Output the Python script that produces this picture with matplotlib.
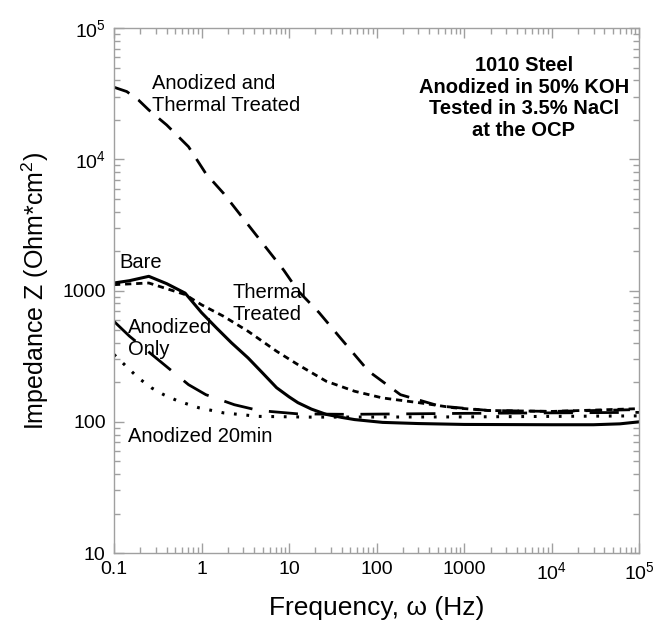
import numpy as np
import matplotlib
matplotlib.use('Agg')
import matplotlib.pyplot as plt
from matplotlib.ticker import FixedLocator, FixedFormatter, LogLocator, NullFormatter

plt.rcParams['font.family'] = ['Liberation Sans', 'DejaVu Sans']
plt.rcParams['mathtext.fontset'] = 'custom'
plt.rcParams['mathtext.rm'] = 'Liberation Sans'
plt.rcParams['mathtext.it'] = 'Liberation Sans:italic'
plt.rcParams['lines.scale_dashes'] = False

# data (frequency in Hz, |Z| in Ohm*cm^2)
bare_f = [0.1, 0.15, 0.25, 0.4, 0.65, 1.0, 1.48, 2.2, 3.4, 5, 7.2, 10, 12.6, 18, 26.5, 40, 56, 117, 300, 1000, 1e4, 3e4, 6e4, 1e5]
bare_z = [1143, 1190, 1285, 1130, 957, 680, 520, 400, 307, 235, 182, 155, 140, 125, 114, 108, 104, 99, 97, 95.5, 95, 95, 96.5, 100]

thermal_f = [0.1, 0.25, 0.65, 1.0, 1.78, 3.4, 7.2, 12.6, 26.5, 56, 117, 300, 755, 1900, 1e4, 1e5]
thermal_z = [1110, 1143, 933, 780, 638, 490, 345, 273, 204, 171, 152, 140, 128, 122, 120, 126]

anth_f = [0.1, 0.14, 0.19, 0.25, 0.4, 0.71, 1.12, 1.79, 3.1, 5, 8.7, 12.6, 22, 38.5, 81, 187, 521, 1900, 1e4, 1e5]
anth_z = [35500, 32900, 28400, 23800, 18300, 12500, 7800, 5500, 3440, 2290, 1430, 1000, 680, 436, 243, 161, 132, 122, 120, 124]

anod_f = [0.1, 0.15, 0.335, 0.71, 1.12, 2.37, 4.5, 12.6, 46, 1000, 1e5]
anod_z = [583, 450, 290, 192, 161, 135, 122, 115, 114, 116, 118]

an20_f = [0.1, 0.138, 0.19, 0.27, 0.37, 0.54, 0.93, 1.78, 4.5, 18, 1000, 1e5]
an20_z = [326, 265, 216, 181, 161, 144, 128, 117, 110, 108.6, 109, 111]

xticks = [0.1, 1, 10, 100, 1000, 1e4, 1e5]
xlabels = ['0.1', '1', '10', '100', '1000', '$10^4$', '$10^5$']
yticks = [10, 100, 1000, 1e4, 1e5]
ylabels = ['10', '100', '1000', '$10^4$', '$10^5$']

fig = plt.figure(figsize=(6.55, 6.27), dpi=100)
ax = fig.add_axes([0.174, 0.118, 0.802, 0.837])

ax.plot(bare_f, bare_z, color='black', lw=2.2)
ax.plot(thermal_f, thermal_z, color='black', lw=2.0, dashes=(4.5, 3.5))
ax.plot(anth_f, anth_z, color='black', lw=2.0, dashes=(12, 8))
ax.plot(anod_f, anod_z, color='black', lw=2.0, dashes=(21, 12))
ax.plot(an20_f, an20_z, color='black', lw=2.2, dashes=(2, 7))

ax.set_xscale('log')
ax.set_yscale('log')
ax.set_xlim(0.1, 1e5)
ax.set_ylim(10, 1e5)

ax.xaxis.set_major_locator(FixedLocator(xticks))
ax.xaxis.set_major_formatter(FixedFormatter(xlabels))
ax.yaxis.set_major_locator(FixedLocator(yticks))
ax.yaxis.set_major_formatter(FixedFormatter(ylabels))
for a in (ax.xaxis, ax.yaxis):
    a.set_minor_locator(LogLocator(base=10, subs=np.arange(2, 10), numticks=20))
    a.set_minor_formatter(NullFormatter())

grey = '#a0a0a0'
for s in ax.spines.values():
    s.set_color(grey)
    s.set_linewidth(1.0)
ax.tick_params(which='both', direction='in', top=True, right=True, color=grey, width=1.0,
               labelsize=14, labelcolor='black')
ax.tick_params(which='major', length=7, pad=6)
ax.tick_params(which='minor', length=4)

ax.set_xlabel('Frequency, ω (Hz)', fontsize=19, labelpad=9)
ax.set_ylabel('Impedance Z (Ohm*cm$^2$)', fontsize=18, labelpad=8)

fs = 14.5
ax.text(0.27, 45000, 'Anodized and\nThermal Treated', fontsize=fs, va='top', ha='left')
ax.text(0.115, 1950, 'Bare', fontsize=fs, va='top', ha='left')
ax.text(2.26, 1150, 'Thermal\nTreated', fontsize=fs, va='top', ha='left')
ax.text(0.145, 620, 'Anodized\nOnly', fontsize=fs, va='top', ha='left')
ax.text(0.145, 91, 'Anodized 20min', fontsize=fs, va='top', ha='left')
ax.text(0.78, 0.947, '1010 Steel\nAnodized in 50% KOH\nTested in 3.5% NaCl\nat the OCP',
        transform=ax.transAxes, fontsize=14.5, fontweight='bold', ha='center', va='top',
        linespacing=1.18)

fig.savefig('out.png', dpi=100)
